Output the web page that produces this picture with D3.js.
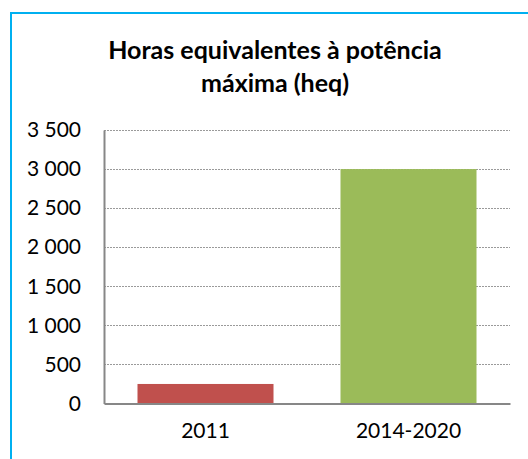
<!DOCTYPE html>
<html>
<head>
<meta charset="utf-8">
<script src="https://cdn.jsdelivr.net/npm/d3@7"></script>
<style>
  html, body { margin: 0; padding: 0; background: #fff; }
  svg { display: block; }
</style>
</head>
<body>
<svg id="chart" width="528" height="459"></svg>
<script>
const categories = ["2011", "2014-2020"];
const values = [250, 3000];
const yTicks = [0, 500, 1000, 1500, 2000, 2500, 3000, 3500];
const titleLines = ["Horas equivalentes à potência", "máxima (heq)"];
const barColors = ["#C0504D", "#9BBB59"];

const svg = d3.select("#chart");
const plot = { left: 104, right: 510, top: 130, bottom: 403.5 };

// frame
svg.append("rect")
  .attr("x", 11).attr("y", 13)
  .attr("width", 600).attr("height", 600)
  .attr("fill", "none")
  .attr("stroke", "#00B0F0")
  .attr("stroke-width", 2);

// title
const title = svg.append("text")
  .attr("text-anchor", "middle")
  .attr("font-family", "Lato, 'Open Sans', sans-serif")
  .attr("font-weight", "bold")
  .attr("font-size", 25)
  .attr("fill", "#000");
title.selectAll("tspan").data(titleLines).join("tspan")
  .attr("x", 275)
  .attr("y", (d, i) => 59 + i * 33)
  .text(d => d);

const x = d3.scaleBand().domain(categories).range([plot.left, plot.right]).paddingInner(0.33).paddingOuter(0.165);
const y = d3.scaleLinear().domain([0, 3500]).range([plot.bottom, plot.top]);

const locale = d3.formatLocale({ decimal: ",", thousands: " ", grouping: [3], currency: ["", ""] });
const fmt = locale.format(",d");

// gridlines
svg.append("g").selectAll("line").data(yTicks.filter(d => d > 0)).join("line")
  .attr("x1", plot.left).attr("x2", plot.right)
  .attr("y1", d => Math.round(y(d)) + 0.5).attr("y2", d => Math.round(y(d)) + 0.5)
  .attr("stroke", "#9a9a9a")
  .attr("stroke-width", 1)
  .attr("stroke-dasharray", "2,1");

// bars
svg.append("g").selectAll("rect").data(values).join("rect")
  .attr("x", (d, i) => x(categories[i]))
  .attr("width", x.bandwidth())
  .attr("y", d => y(d))
  .attr("height", d => y(0) - y(d))
  .attr("fill", (d, i) => barColors[i]);

// y axis
const yAxis = d3.axisLeft(y).tickValues(yTicks).tickFormat(fmt).tickSize(0).tickPadding(23);
const gy = svg.append("g").attr("transform", `translate(${plot.left},0)`).call(yAxis);
gy.select(".domain").attr("stroke", "#878787").attr("stroke-width", 2);
gy.selectAll("text")
  .attr("font-family", "Lato, 'Open Sans', sans-serif")
  .attr("font-size", 21)
  .attr("fill", "#000");

// x axis
const xAxis = d3.axisBottom(x).tickSize(0).tickPadding(20);
const gx = svg.append("g").attr("transform", `translate(0,${plot.bottom})`).call(xAxis);
gx.select(".domain").attr("stroke", "#878787").attr("stroke-width", 2);
gx.selectAll("text")
  .attr("font-family", "Lato, 'Open Sans', sans-serif")
  .attr("font-size", 21)
  .attr("fill", "#000");
</script>
</body>
</html>
